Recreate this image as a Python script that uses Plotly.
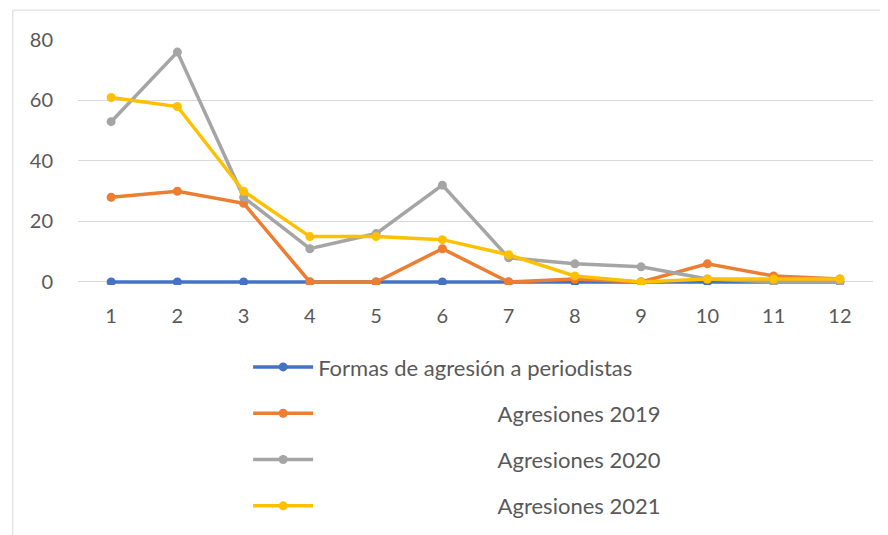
import plotly.graph_objects as go

# Categories (1..12) and yearly series
categorias = [1, 2, 3, 4, 5, 6, 7, 8, 9, 10, 11, 12]
formas = [0, 0, 0, 0, 0, 0, 0, 0, 0, 0, 0, 0]
agresiones_2019 = [28, 30, 26, 0, 0, 11, 0, 1, 0, 6, 2, 1]
agresiones_2020 = [53, 76, 28, 11, 16, 32, 8, 6, 5, 1, 0, 0]
agresiones_2021 = [61, 58, 30, 15, 15, 14, 9, 2, 0, 1, 1, 1]
y_ticks = [0, 20, 40, 60, 80]

nombres = ['Formas de agresión a periodistas',
           'Agresiones 2019', 'Agresiones 2020', 'Agresiones 2021']
colores = ['#4472C4', '#ED7D31', '#A5A5A5', '#FFC000']
series = [formas, agresiones_2019, agresiones_2020, agresiones_2021]

pad = '\u00a0' * 32  # push the last three legend labels right, like the original

fig = go.Figure()
for i, (nombre, valores, color) in enumerate(zip(nombres, series, colores)):
    etiqueta = nombre if i == 0 else pad + nombre
    fig.add_trace(go.Scatter(
        x=categorias,
        y=valores,
        name=etiqueta,
        mode='lines+markers',
        line=dict(color=color, width=3.5),
        marker=dict(color=color, size=9),
        legendgroup=str(i),
    ))

fig.update_layout(
    width=888,
    height=535,
    margin=dict(l=70, r=23, t=32, b=258),
    plot_bgcolor='white',
    paper_bgcolor='white',
    font=dict(family='Lato', color='#595959', size=20),
    showlegend=True,
    legend=dict(
        x=0.214, y=0.368,
        xanchor='left', yanchor='top',
        yref='container',
        traceorder='grouped',
        tracegroupgap=14.7,
        itemwidth=60,
        font=dict(size=22, color='#595959'),
        bgcolor='rgba(0,0,0,0)',
    ),
    xaxis=dict(
        tickmode='array',
        tickvals=categorias,
        range=[0.5, 12.5],
        showgrid=False,
        zeroline=False,
        showline=False,
        ticks='outside',
        ticklen=13,
        tickcolor='rgba(0,0,0,0)',
        tickfont=dict(size=20),
    ),
    yaxis=dict(
        range=[-1, 80],
        tickvals=y_ticks,
        showgrid=True,
        gridcolor='#D9D9D9',
        gridwidth=1,
        zeroline=False,
        showline=False,
        ticks='outside',
        ticklen=20,
        tickcolor='rgba(0,0,0,0)',
        tickfont=dict(size=20),
    ),
    shapes=[dict(
        type='rect', xref='paper', yref='paper',
        x0=-0.082, x1=1.018, y0=-1.1, y1=1.122,
        line=dict(color='#D9D9D9', width=1),
        fillcolor='rgba(0,0,0,0)',
        layer='below',
    )],
)

fig.write_html("out.html")
